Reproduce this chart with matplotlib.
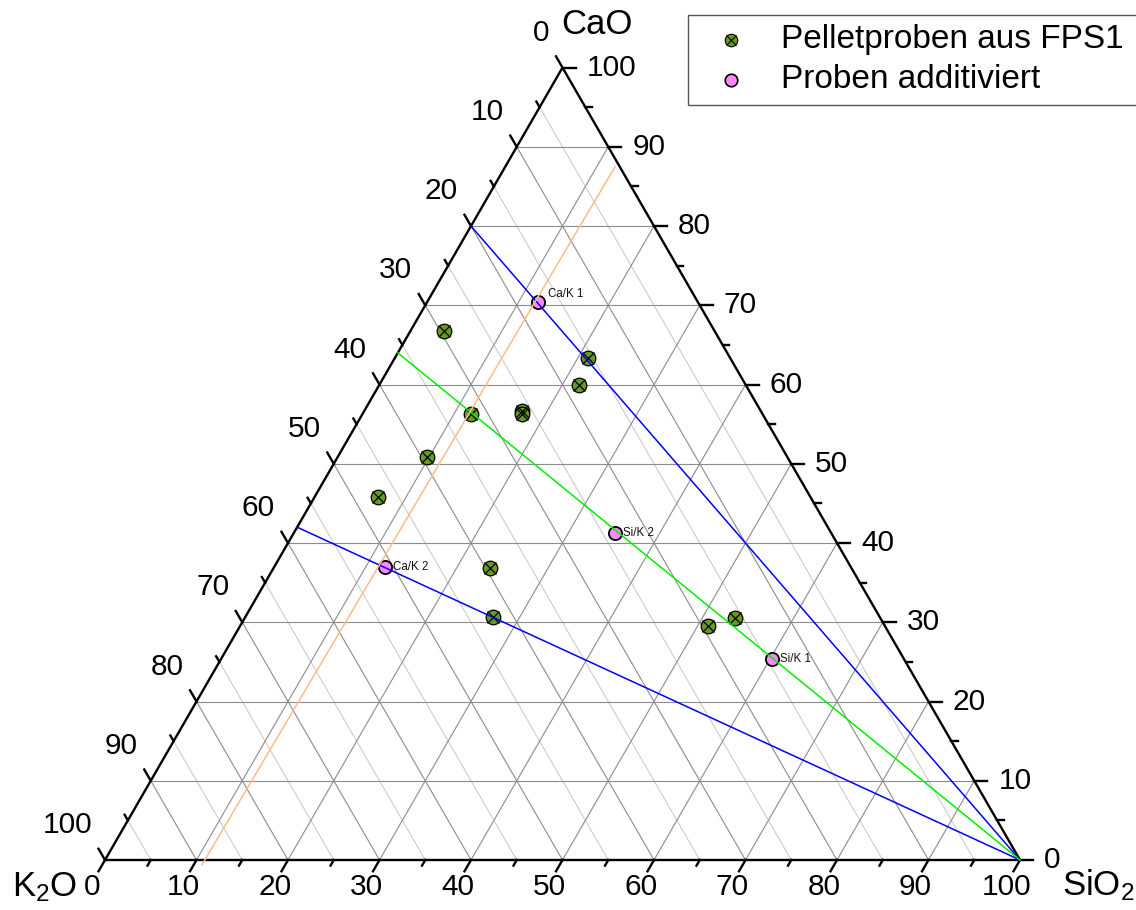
import numpy as np
import matplotlib
matplotlib.use("Agg")
import matplotlib.pyplot as plt
from matplotlib.patches import Rectangle

plt.rcParams['font.family'] = ['Liberation Sans', 'DejaVu Sans']
plt.rcParams['mathtext.fontset'] = 'custom'
plt.rcParams['mathtext.rm'] = 'Liberation Sans'
plt.rcParams['mathtext.it'] = 'Liberation Sans'

# ---------------- data (CaO, SiO2, K2O in %) ----------------
pellet_cao  = [66.8, 63.3, 60.0, 56.3, 56.7, 56.3, 50.8, 45.8, 36.9, 30.7, 29.5, 30.6]
pellet_sio2 = [3.7, 21.1, 21.8, 11.9, 17.2, 17.4, 9.8, 6.9, 23.6, 27.0, 51.1, 53.5]
pellet_k2o  = [29.5, 15.6, 18.2, 31.8, 26.1, 26.3, 39.4, 47.3, 39.5, 42.3, 19.4, 15.9]

add_names = ["Ca/K 1", "Ca/K 2", "Si/K 2", "Si/K 1"]
add_cao  = [70.4, 37.0, 41.3, 25.4]
add_sio2 = [12.1, 12.1, 35.1, 60.2]
add_k2o  = [17.5, 50.9, 23.6, 14.4]

# guide lines: (CaO, SiO2) of start and end points
blue1_cao, blue1_sio2 = [80.0, 0.0], [0.0, 100.0]
blue2_cao, blue2_sio2 = [42.0, 0.0], [0.0, 100.0]
green_cao, green_sio2 = [64.0, 0.0], [0.0, 100.0]
orange_cao, orange_sio2 = [87.5, -0.6], [12.0, 10.9]

ticks_major = [0, 10, 20, 30, 40, 50, 60, 70, 80, 90, 100]
ticks_minor = [5, 15, 25, 35, 45, 55, 65, 75, 85, 95]

S3 = np.sqrt(3) / 2


def tern(cao, sio2):
    cao = np.asarray(cao, float)
    sio2 = np.asarray(sio2, float)
    return sio2 + cao / 2.0, cao * S3


PX = 9.15  # pixels per unit

fig = plt.figure(figsize=(11.36, 9.10), dpi=100)
ax = fig.add_axes([0, 0, 1, 1])
ax.set_xlim(-105 / PX, (1136 - 105) / PX)
ax.set_ylim((860 - 910) / PX, 860 / PX)
ax.axis('off')

gmaj = '#8c8c8c'
gmin = '#cccccc'
# minor grid: constant K2O
for v in ticks_minor:
    x, y = tern([0, 100 - v], [100 - v, 0])
    ax.plot(x, y, color=gmin, lw=0.8, zorder=1)
for v in ticks_major[1:-1]:
    # constant CaO (horizontal)
    x, y = tern([v, v], [0, 100 - v])
    ax.plot(x, y, color=gmaj, lw=0.8, zorder=2)
    # constant SiO2
    x, y = tern([0, 100 - v], [v, v])
    ax.plot(x, y, color=gmaj, lw=0.8, zorder=2)
    # constant K2O
    x, y = tern([0, 100 - v], [100 - v, 0])
    ax.plot(x, y, color=gmaj, lw=0.8, zorder=2)

# triangle frame
x, y = tern([0, 0, 100, 0], [0, 100, 0, 0])
ax.plot(x, y, color='black', lw=1.7, zorder=6, solid_capstyle='projecting')

LMAJ = 13 / PX
LMIN = 6.5 / PX
fs_tick = 21.5
for v in ticks_major + ticks_minor:
    L = LMAJ if v in ticks_major else LMIN
    # bottom axis (SiO2): direction parallel to left edge, outward
    bx, by = tern(0, v)
    ax.plot([bx, bx - 0.5 * L], [by, by - S3 * L], color='black', lw=1.7, zorder=6)
    # right axis (CaO): horizontal to the right
    rx, ry = tern(v, 100 - v)
    ax.plot([rx, rx + L], [ry, ry], color='black', lw=1.7, zorder=6)
    # left axis (K2O, 0 at top): up-left
    lx, ly = tern(100 - v, 0)
    ax.plot([lx, lx - 0.5 * L], [ly, ly + S3 * L], color='black', lw=1.7, zorder=6)
    if v in ticks_major:
        ax.text(bx - 13 / PX, by - 27 / PX, str(v), fontsize=fs_tick,
                ha='center', va='center')
        ax.text(rx + 24 / PX, ry, str(v), fontsize=fs_tick,
                ha='left', va='center')
        ax.text(lx - 13 / PX, ly + 35 / PX, str(v), fontsize=fs_tick,
                ha='right', va='center')

# axis titles
fs_title = 25
ax.text((597 - 105) / PX, (860 - 25) / PX, 'CaO', fontsize=fs_title, ha='center', va='center')
ax.text((12 - 105) / PX, (860 - 887) / PX, r'K$_\mathregular{2}$O', fontsize=fs_title,
        ha='left', va='center')
ax.text((1062 - 105) / PX, (860 - 885) / PX, r'SiO$_\mathregular{2}$', fontsize=fs_title,
        ha='left', va='center')

# guide lines
for cc, ss, col in [(blue1_cao, blue1_sio2, '#0000ff'),
                    (blue2_cao, blue2_sio2, '#0000ff'),
                    (green_cao, green_sio2, '#00ee00'),
                    (orange_cao, orange_sio2, '#ffbb88')]:
    x, y = tern(cc, ss)
    ax.plot(x, y, color=col, lw=1.1, zorder=8)

# pellet samples
green = '#669a22'
px_, py_ = tern(pellet_cao, pellet_sio2)
ax.plot(px_, py_, 'o', ms=10.5, mfc=green, mec='black', mew=0.9, ls='none', zorder=7)
ax.plot(px_, py_, 'x', ms=8.5, mec='black', mew=0.9, ls='none', zorder=7)

# additive samples
pink = '#ff88ff'
ax_, ay_ = tern(add_cao, add_sio2)
ax.plot(ax_, ay_, 'o', ms=9.5, mfc=pink, mec='black', mew=1.3, ls='none', zorder=7)
offs = [(10, 8), (8, 0), (8, 0), (8, 0)]
for name, xx, yy, (dx, dy) in zip(add_names, ax_, ay_, offs):
    ax.text(xx + dx / PX, yy + dy / PX, name, fontsize=8.3, ha='left', va='center',
            color='#111111', zorder=9)

# legend (manual)
ax.add_patch(Rectangle(((688 - 105) / PX, (860 - 105) / PX), (1150 - 688) / PX, 90 / PX,
                       fill=False, edgecolor='#555555', lw=1.0, zorder=10))
lx0 = (731 - 105) / PX
ax.plot([lx0], [(860 - 40) / PX], 'o', ms=9, mfc=green, mec='black', mew=0.8, zorder=11)
ax.plot([lx0], [(860 - 40) / PX], 'x', ms=7, mec='black', mew=0.8, zorder=11)
ax.plot([lx0], [(860 - 80) / PX], 'o', ms=9, mfc=pink, mec='black', mew=1.2, zorder=11)
ax.text((781 - 105) / PX, (860 - 40) / PX, 'Pelletproben aus FPS1', fontsize=24,
        ha='left', va='center', zorder=11)
ax.text((781 - 105) / PX, (860 - 80) / PX, 'Proben additiviert', fontsize=24,
        ha='left', va='center', zorder=11)

fig.savefig('out.png', dpi=100)
